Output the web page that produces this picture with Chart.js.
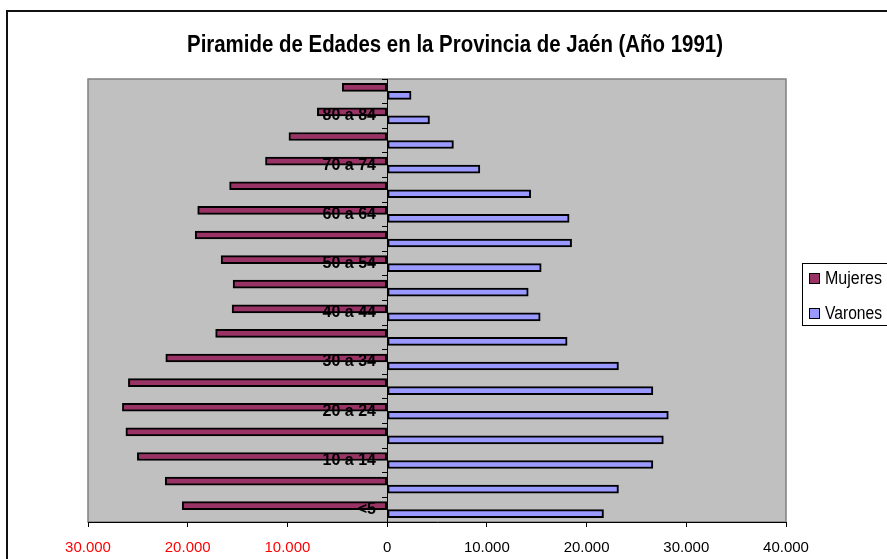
<!DOCTYPE html>
<html>
<head>
<meta charset="utf-8">
<script src="https://cdn.jsdelivr.net/npm/chart.js@4/dist/chart.umd.min.js"></script>
<style>
  html, body { margin: 0; padding: 0; background: #fff; }
  #wrap { width: 887px; height: 559px; }
</style>
</head>
<body>
<div id="wrap"><canvas id="c" width="887" height="559"></canvas></div>
<script>
const titulo = 'Piramide de Edades en la Provincia de Jaén (Año 1991)';

// grupos de edad, de arriba abajo
const edades = ['85 y más', '80 a 84', '75 a 79', '70 a 74', '65 a 69', '60 a 64',
    '55 a 59', '50 a 54', '45 a 49', '40 a 44', '35 a 39', '30 a 34',
    '25 a 29', '20 a 24', '15 a 19', '10 a 14', '5 a 9', '<5'];

const mujeres = [4500, 7000, 9850, 12200, 15800, 19000, 19250, 16650, 15450,
    15550, 17200, 22200, 25950, 26550, 26200, 25050, 22250, 20550];

const varones = [2400, 4250, 6650, 9300, 14400, 18250, 18500, 15450, 14150,
    15350, 18050, 23200, 26650, 28200, 27700, 26650, 23200, 21700];

const xMin = -30000;
const xMax = 40000;
const xStep = 10000;

const fuente = '"Liberation Sans", Arial, sans-serif';

function miles(v) {
    const n = Math.abs(v);
    return n.toString().replace(/\B(?=(\d{3})+(?!\d))/g, '.');
}

const fondo = {
    id: 'fondo',
    beforeDraw(chart) {
        const {ctx, chartArea: a} = chart;
        ctx.save();
        // area de trazado
        ctx.fillStyle = '#c0c0c0';
        ctx.fillRect(a.left, a.top, a.right - a.left, a.bottom - a.top);
        ctx.strokeStyle = '#808080';
        ctx.lineWidth = 1.5;
        ctx.strokeRect(a.left, a.top, a.right - a.left, a.bottom - a.top);
        ctx.restore();
    },
    afterDraw(chart) {
        const ctx = chart.ctx;
        ctx.save();
        // marco del grafico
        ctx.strokeStyle = '#111';
        ctx.lineWidth = 2;
        ctx.strokeRect(7, 11, 1000, 1000);

        // titulo
        ctx.fillStyle = '#000';
        ctx.font = 'bold 23px ' + fuente;
        ctx.textAlign = 'center';
        ctx.textBaseline = 'alphabetic';
        ctx.fillText(titulo, 455, 52, 536);

        // leyenda
        ctx.fillStyle = '#fff';
        ctx.fillRect(802, 263, 100, 63);
        ctx.strokeStyle = '#000';
        ctx.lineWidth = 1;
        ctx.strokeRect(802.5, 263.5, 100, 62);
        ctx.font = '18px ' + fuente;
        ctx.textAlign = 'left';
        ctx.textBaseline = 'middle';
        chart.data.datasets.forEach((ds, i) => {
            const y = 273 + i * 35;
            ctx.fillStyle = ds.backgroundColor;
            ctx.fillRect(809, y, 11, 11);
            ctx.strokeRect(809.5, y + 0.5, 10, 10);
            ctx.fillStyle = '#000';
            ctx.fillText(ds.label, 825, y + 6.5, 57);
        });
        ctx.restore();
    }
};

const cfg = {
    type: 'bar',
    data: {
        labels: edades,
        datasets: [
        {
            label: 'Mujeres',
            data: mujeres.map(v => -v),
            backgroundColor: '#993366',
        },
        {
            label: 'Varones',
            data: varones,
            backgroundColor: '#9999ff',
        },
        ],
    },
    options: {
        indexAxis: 'y',
        responsive: false,
        animation: false,
        datasets: {
            bar: {
                borderColor: '#000',
                borderWidth: 2,
                borderSkipped: false,
                barThickness: 8,
                categoryPercentage: 0.66,
                barPercentage: 1.0,
            },
        },
        layout: { padding: { top: 79, left: 88, right: 101, bottom: 0 } },
        plugins: {
            legend: { display: false },
            title: { display: false },
            tooltip: { enabled: false },
        },
        scales: {
            x: {
                type: 'linear',
                position: 'bottom',
                min: xMin,
                max: xMax,
                afterFit(scale) { scale.height = 37; },
                grid: {
                    drawOnChartArea: false,
                    drawTicks: true,
                    tickLength: 5,
                    color: '#000',
                },
                border: { color: '#000', width: 1 },
                ticks: {
                    stepSize: xStep,
                    padding: 12,
                    maxRotation: 0,
                    font: { family: fuente, size: 15 },
                    color: (c) => (c.tick && c.tick.value < 0) ? '#ff0000' : '#000',
                    callback: (v) => miles(v),
                },
            },
            y: {
                type: 'category',
                position: { x: 0 },
                grid: {
                    drawOnChartArea: false,
                    drawTicks: true,
                    tickLength: 5,
                    offset: true,
                    color: '#000',
                },
                border: { color: '#000', width: 1 },
                ticks: {
                    autoSkip: false,
                    z: 2,
                    color: '#000',
                    font: { family: fuente, size: 16, weight: 'bold' },
                    // hueco entre etiqueta y eje
                    callback: (v, i) => (i % 2 === 1) ? edades[i] + '\u2002\u2009' : '',
                },
            },
        },
    },
    plugins: [fondo],
};

new Chart(document.getElementById('c'), cfg);
</script>
</body>
</html>
